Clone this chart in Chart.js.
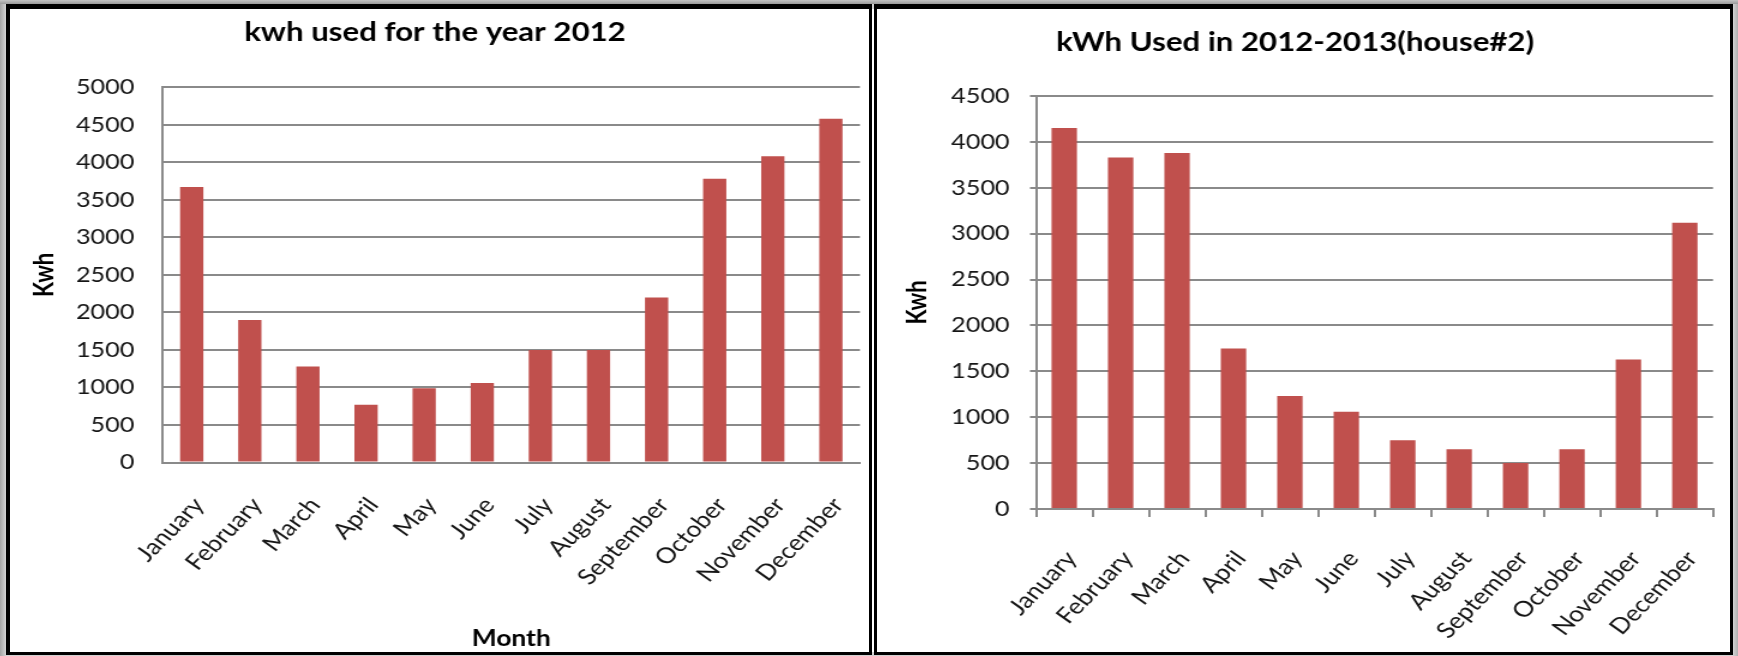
<!DOCTYPE html>
<html>
<head>
<meta charset="utf-8">
<title>kWh usage</title>
<script src="https://cdn.jsdelivr.net/npm/chart.js@4.4.1/dist/chart.umd.min.js"></script>
<style>
  html, body { margin: 0; padding: 0; }
  body {
    width: 1738px; height: 656px; position: relative; overflow: hidden;
    background: linear-gradient(90deg, #a4a4a4 0px, #d2d2d2 6px, #d2d2d2 1733px, #b0b0b0 1738px);
  }
  .topband { position: absolute; left: 0; top: 0; width: 1738px; height: 4px;
    background: linear-gradient(#c4c4c4, #9a9a9a); }
  .panel { position: absolute; top: 4px; height: 643px; background: #fff;
    border: solid #000; overflow: hidden; }
  #panel1 { left: 6px; width: 859px; border-width: 5px 3px 3px 4px; }
  #panel2 { left: 874px; width: 853px; border-width: 5px 3px 3px 3px; }
  .gap { position: absolute; left: 872px; top: 9px; width: 2px; height: 643px; background: #fff; }
  /* the charts are laid out narrow and widened horizontally */
  .wide { position: absolute; left: 0; top: 0; height: 643px;
    transform: scaleX(1.2); transform-origin: 0 0; }
  #wrap1 { width: 716px; }
  #wrap2 { width: 711px; }
</style>
</head>
<body>
<div class="topband"></div>
<div class="gap"></div>
<div class="panel" id="panel1"><div class="wide" id="wrap1"><canvas id="chart1"></canvas></div></div>
<div class="panel" id="panel2"><div class="wide" id="wrap2"><canvas id="chart2"></canvas></div></div>
<script>
// Month categories shared by both charts
const months = ['January', 'February', 'March', 'April', 'May', 'June',
                'July', 'August', 'September', 'October', 'November', 'December'];

// Monthly consumption, kWh
const kwh2012   = [3670, 1900, 1280, 770, 990, 1060, 1500, 1500, 2200, 3780, 4080, 4580];
const kwhHouse2 = [4150, 3830, 3880, 1750, 1230, 1060, 750, 650, 500, 650, 1630, 3120];

// Value axis ranges
const axis2012   = { min: 0, max: 5000, step: 500 };
const axisHouse2 = { min: 0, max: 4500, step: 500 };

const barColor  = '#c0504d';
const gridColor = '#8a8a8a';
const textColor = '#151515';

// Horizontal widening applied to the chart boxes; month labels are tilted
// so that they end up at 45 degrees once widened.
const WIDEN = 1.2;
const LABEL_TILT = Math.atan(WIDEN) * 180 / Math.PI;

Chart.defaults.font.family = 'Lato, "Open Sans", sans-serif';
Chart.defaults.color = textColor;

function makeChart(canvasId, o) {
  return new Chart(document.getElementById(canvasId), {
    type: 'bar',
    data: {
      labels: months,
      datasets: [{
        data: o.values,
        backgroundColor: barColor,
        borderWidth: 0,
        barPercentage: o.barPct,
        categoryPercentage: 1
      }]
    },
    options: {
      responsive: true,
      maintainAspectRatio: false,
      animation: false,
      layout: { padding: { left: 0, right: o.padRight, top: 0, bottom: 0 } },
      plugins: {
        legend: { display: false },
        tooltip: { enabled: false },
        title: {
          display: true,
          text: o.title,
          color: '#000',
          font: { size: 26, weight: 'bold' },
          padding: { top: o.titleTop, bottom: o.titleBottom }
        }
      },
      scales: {
        x: {
          grid: {
            display: o.xTicks,
            drawOnChartArea: false,
            drawTicks: o.xTicks,
            tickLength: 8,
            color: gridColor,
            lineWidth: 2
          },
          border: { display: true, color: gridColor, width: 2 },
          ticks: {
            autoSkip: false,
            minRotation: LABEL_TILT,
            maxRotation: LABEL_TILT,
            padding: o.xPad,
            labelOffset: 6,
            color: textColor,
            font: { size: 22 }
          },
          title: {
            display: !!o.xTitle,
            text: o.xTitle || '',
            color: '#000',
            font: { size: 22, weight: 'bold' },
            padding: { top: 0, bottom: 0 }
          },
          afterFit: (s) => {
            s.height = o.xHeight;
            // plot width is set by the layout padding alone
            s.paddingLeft = 0;
            s.paddingRight = 0;
          }
        },
        y: {
          min: o.axis.min,
          max: o.axis.max,
          ticks: {
            stepSize: o.axis.step,
            padding: o.yPad,
            color: textColor,
            font: { size: 21 },
            callback: (v) => String(v)
          },
          grid: {
            color: gridColor,
            lineWidth: 2,
            drawTicks: o.yTicks,
            tickLength: 5
          },
          border: { display: true, color: gridColor, width: 2 },
          title: {
            display: true,
            text: 'Kwh',
            color: '#000',
            font: { size: 22, weight: 'bold' },
            padding: { top: o.yTitlePad, bottom: 0 }
          },
          afterFit: (s) => { s.width = o.yWidth; }
        }
      }
    }
  });
}

makeChart('chart1', {
  values: kwh2012,
  axis: axis2012,
  title: 'kwh used for the year 2012',
  xTitle: 'Month',
  barPct: 0.4,
  padRight: 7.7,
  titleTop: 8.4,
  titleBottom: 38.7,
  yWidth: 127.2,
  yPad: 23.6,
  yTicks: false,
  yTitlePad: 15.5,
  xTicks: false,
  xPad: 30,
  xHeight: 189.5
});

makeChart('chart2', {
  values: kwhHouse2,
  axis: axisHouse2,
  title: 'kWh Used in 2012-2013(house#2)',
  xTitle: null,
  barPct: 0.45,
  padRight: 14.3,
  titleTop: 18.4,
  titleBottom: 37.4,
  yWidth: 132.5,
  yPad: 17,
  yTicks: true,
  yTitlePad: 21,
  xTicks: true,
  xPad: 29,
  xHeight: 143
});
</script>
</body>
</html>
